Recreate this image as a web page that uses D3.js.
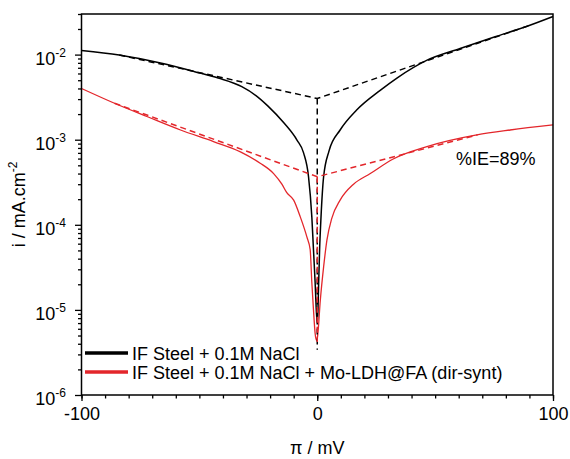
<!DOCTYPE html>
<html><head><meta charset="utf-8">
<script src="https://cdn.jsdelivr.net/npm/d3@7"></script>
<style>body{margin:0;background:#fff;} svg{display:block;} text{font-family:Arial,"Liberation Sans",sans-serif;fill:#000;}</style>
</head><body>
<svg id="chart" width="570" height="459"></svg>
<script>
// ---- data (potential mV, current density mA/cm2) ----
const blackCurve = [
 [-100,1.12e-2],[-84,9.9e-3],[-66,7.9e-3],[-52,6.3e-3],[-42,5.3e-3],[-32,4.2e-3],[-26,3.3e-3],[-21,2.5e-3],
 [-14,1.56e-3],[-8.6,9.9e-4],[-5.8,7.0e-4],[-3.7,3.67e-4],[-2.3,1.24e-4],[-1.6,5.1e-5],[-0.9,2.1e-5],[-0.4,1.0e-5],
 [0,7e-6],[0.3,1.0e-5],[0.6,2.1e-5],[1.0,5.1e-5],[1.6,1.24e-4],[2.7,3.67e-4],[5.0,7.4e-4],[9.7,1.3e-3],[16.7,2.23e-3],
 [26.7,3.8e-3],[33.8,5.3e-3],[46.6,8.6e-3],[60.6,1.18e-2],[74.8,1.6e-2],[89,2.15e-2],[100,2.8e-2]
];
const redCurve = [
 [-100,4.0e-3],[-86,2.68e-3],[-72,1.86e-3],[-58,1.30e-3],[-44,9.5e-4],[-32.6,7.2e-4],[-24.2,5.3e-4],[-18.5,4.0e-4],
 [-15,3.0e-4],[-13,2.4e-4],[-10,1.95e-4],[-7.2,1.24e-4],[-4.4,7.2e-5],[-3.0,5.1e-5],[-2.3,2.1e-5],[-1.6,1.0e-5],
 [-0.9,5.3e-6],[-0.3,4.4e-6],[0.1,4.8e-6],[1.3,1.3e-5],[2.7,3.2e-5],[4.1,6.6e-5],[6.2,1.2e-4],[9.7,1.95e-4],
 [15.4,3.0e-4],[22.5,4.0e-4],[32,5.9e-4],[46.5,8.3e-4],[67.7,1.14e-3],[81.8,1.3e-3],[100,1.49e-3]
];
const blackTafel = [[-84,9.9e-3],[0,3.05e-3],[90,2.2e-2]];
const blackVertical = [[0,3.05e-3],[0,3.4e-6]];
const redTafel = [[-86,2.68e-3],[0,3.67e-4],[68,1.14e-3]];
const redVertical = [[0,3.67e-4],[0,4.2e-6]];
const xMajorTicks = [-100,0,100];
const xMinorTicks = d3.range(-100,101,10);
const yMajorExps = [-6,-5,-4,-3,-2];
const legendLabels = ["IF Steel + 0.1M NaCl","IF Steel + 0.1M NaCl + Mo-LDH@FA (dir-synt)"];
const annotation = "%IE=89%";

// ---- layout ----
const L=81.5, R=553, T=14, B=395;
const svg = d3.select("#chart");
const x = d3.scaleLinear().domain([-100,100]).range([L,R]);
const y = d3.scaleLog().domain([1e-6,3e-2]).range([B,T]);
const line = d3.line().x(d=>x(d[0])).y(d=>y(d[1]));
const smooth = d3.line().x(d=>x(d[0])).y(d=>y(d[1])).curve(d3.curveMonotoneX);
const RED = "#e3262b";

// curves
svg.append("path").attr("d",smooth(redCurve)).attr("fill","none").attr("stroke",RED).attr("stroke-width",1.3);
svg.append("path").attr("d",smooth(blackCurve)).attr("fill","none").attr("stroke","#000").attr("stroke-width",1.5);
// tafel dashed
[[blackTafel,"#000"],[blackVertical,"#000"],[redTafel,RED],[redVertical,RED]].forEach(([d,c])=>{
  svg.append("path").attr("d",line(d)).attr("fill","none").attr("stroke",c)
    .attr("stroke-width",1.5).attr("stroke-dasharray","6,4");
});

// frame
svg.append("rect").attr("x",L).attr("y",T).attr("width",R-L).attr("height",B-T)
  .attr("fill","none").attr("stroke","#000").attr("stroke-width",1.5);

// x axis
const gxm = svg.append("g").attr("transform",`translate(0,${B})`)
  .call(d3.axisBottom(x).tickValues(xMinorTicks).tickSize(3.5).tickFormat(""));
const gx = svg.append("g").attr("transform",`translate(0,${B})`)
  .call(d3.axisBottom(x).tickValues(xMajorTicks).tickSize(6).tickPadding(6).tickFormat(d=>String(d)));
[gxm,gx].forEach(g=>{g.select(".domain").remove(); g.selectAll("line").attr("stroke-width",1.3);});
gx.selectAll("text").style("font-size","18px").attr("font-family","Arial, Liberation Sans, sans-serif");

// y axis ticks
const minor=[];
for(let e=-6;e<=-2;e++) for(let m=2;m<=9;m++){ const v=m*Math.pow(10,e); if(v<=3e-2) minor.push(v);}
const gym = svg.append("g").attr("transform",`translate(${L},0)`)
  .call(d3.axisLeft(y).tickValues(minor).tickSize(3.5).tickFormat(""));
const gy = svg.append("g").attr("transform",`translate(${L},0)`)
  .call(d3.axisLeft(y).tickValues(yMajorExps.map(e=>Math.pow(10,e))).tickSize(6.5).tickFormat(""));
[gym,gy].forEach(g=>{g.select(".domain").remove(); g.selectAll("line").attr("stroke-width",1.3);});
yMajorExps.forEach(e=>{
  const t = svg.append("text").attr("x",66).attr("y",y(Math.pow(10,e))+10)
    .attr("text-anchor","end").style("font-size","18px");
  t.append("tspan").text("10");
  t.append("tspan").attr("dy",-8).style("font-size","12px").text(String(e));
});

// axis titles
svg.append("text").attr("x",(L+R)/2).attr("y",454).attr("text-anchor","middle").style("font-size","18px").text("π / mV");
const yt = svg.append("text").attr("transform",`translate(25,${(T+B)/2}) rotate(-90)`)
  .attr("text-anchor","middle").style("font-size","18px");
yt.append("tspan").text("i / mA.cm");
yt.append("tspan").attr("dy",-8).style("font-size","12px").text("-2");

// legend
const legColors=["#000",RED], legY=[353,372];
legendLabels.forEach((lab,i)=>{
  svg.append("line").attr("x1",85).attr("x2",128).attr("y1",legY[i]).attr("y2",legY[i])
    .attr("stroke",legColors[i]).attr("stroke-width",3.5);
  svg.append("text").attr("x",132).attr("y",legY[i]+6.5).style("font-size","18px").text(lab);
});

// annotation
svg.append("text").attr("x",456).attr("y",165).style("font-size","18px").text(annotation);
</script>
</body></html>
